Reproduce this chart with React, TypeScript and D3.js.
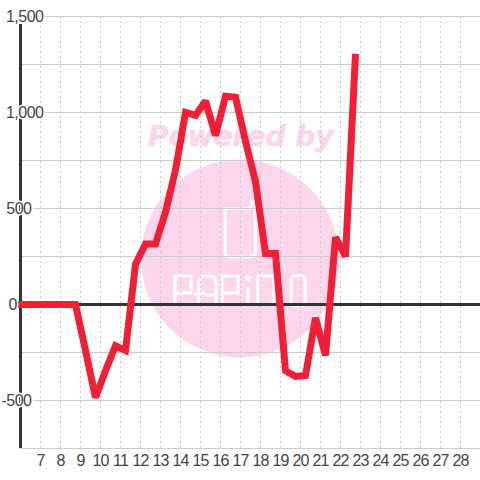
import React from "react";
import * as d3 from "d3";

const xTicks = [7,8,9,10,11,12,13,14,15,16,17,18,19,20,21,22,23,24,25,26,27,28];
const yTicks = [-750,-500,-250,0,250,500,750,1000,1250,1500];
const yLabels = [-500,0,500,1000,1500];
const timeValues = [5.85,8.75,9.25,9.75,10.25,10.75,11.25,11.75,12.25,12.75,13.25,13.75,14.25,14.75,15.25,15.75,16.25,16.75,17.25,17.75,18.25,18.75,19.25,19.75,20.25,20.75,21.25,21.75,22.25,22.75];
const seriesValues = [0,0,-240,-485,-345,-215,-240,210,315,315,480,700,1000,985,1060,880,1085,1080,850,640,265,265,-345,-375,-370,-70,-265,350,250,1305];

const x = d3.scaleLinear().domain([6,29]).range([20.5,480.5]);
const y = d3.scaleLinear().domain([-750,1500]).range([448.5,16.5]);
const fmt = d3.format(",");

const pink = "#fbd6ec";
const logoPaths = [
  "M225 208.5 H250 Q252 208 252 201 Q255 201 255.5 205 V252 Q255.5 257 250 257 H230 Q225 257 225 252 Z",
  "M175 306 V276 H191 V293 H175",
  "M199 306 V283 Q199 276 205 276 H210 Q216 276 216 283 V306 M194 295 Q200 291 205 294 Q210 297 218 293",
  "M222 306 V276 H238 V293 H222",
  "M248 306 V287",
  "M258 306 V276 H274 V306",
  "M291 304 V280 Q291 276 295 276 H301 Q305 276 305 280 V302 Q305 306 301 306 H295 Q291 306 291 302 Z",
];

export default function App() {
  const line = d3.line<number>().x((_, i) => x(timeValues[i])).y(d => y(d));
  return (
    <svg width={480} height={480} style={{position:"fixed",left:0,top:0,background:"#fff"}}>
      <circle cx={240} cy={258.5} r={99} fill={pink} />
      <text x={148} y={146} fontFamily="DejaVu Sans" fontWeight="bold" fontStyle="italic" fontSize={28} fill={pink} stroke={pink} strokeWidth={0.6}>Powered by</text>
      <g fill="none" stroke="#fff" strokeWidth={3}>
        {logoPaths.map((d, i) => <path key={i} d={d} />)}
      </g>
      <circle cx={248} cy={278} r={3} fill="#fff" />
      {xTicks.map(t => <line key={t} x1={x(t)} x2={x(t)} y1={16} y2={448} stroke="#ccc" strokeDasharray="2 3" />)}
      {yTicks.map(t => <line key={t} x1={20} x2={480} y1={y(t)} y2={y(t)} stroke={t===0?"#333":"#ccc"} strokeWidth={t===0?3:1} />)}
      <line x1={20.5} x2={20.5} y1={24} y2={448} stroke="#333" strokeWidth={3} />
      <path d={line(seriesValues)!} fill="none" stroke="#f01f36" strokeWidth={7} strokeLinejoin="miter" strokeMiterlimit={2} />
      {yLabels.map(t => <text key={t} x={t===0?17:t>=1000?43.5:31.5} y={y(t)+5.5} textAnchor="end" fontFamily="Liberation Sans" fontSize={16} letterSpacing={-0.5} fill="#444" stroke="#fff" strokeWidth={3} paintOrder="stroke">{fmt(t).replace("−","-")}</text>)}
      {xTicks.map(t => <text key={t} x={x(t)} y={466} textAnchor="middle" fontFamily="Liberation Sans" fontSize={16} letterSpacing={-0.8} fill="#444">{t}</text>)}
    </svg>
  );
}
